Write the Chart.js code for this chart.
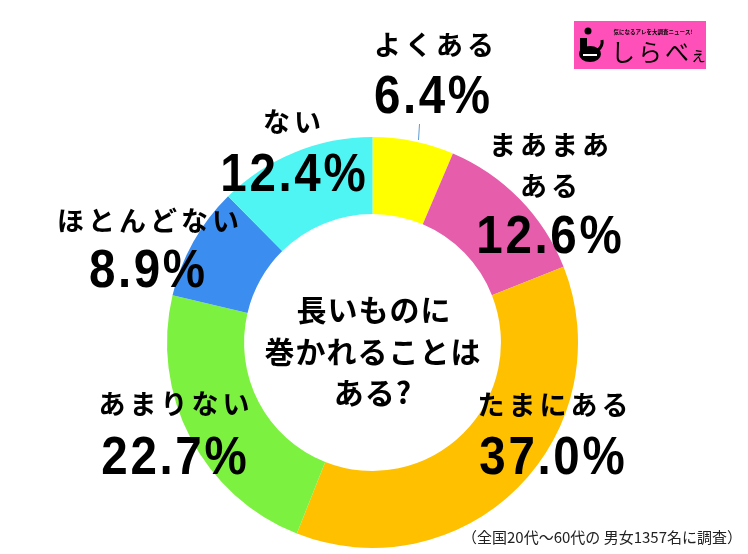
<!DOCTYPE html>
<html>
<head>
<meta charset="utf-8">
<script src="https://cdn.jsdelivr.net/npm/chart.js@4.4.0/dist/chart.umd.min.js"></script>
<style>
  html, body { margin: 0; padding: 0; background: #fff; }
  canvas { display: block; }
</style>
</head>
<body>
<canvas id="chart" width="748" height="554"></canvas>
<script>
// answers, clockwise from 12 o'clock
var categories = ['よくある', 'まあまあある', 'たまにある', 'あまりない', 'ほとんどない', 'ない'];
var percents = [6.4, 12.6, 37.0, 22.7, 8.9, 12.4];
var colors = ['#FFFF00', '#E65DAB', '#FFC000', '#7DF13F', '#3B8EF0', '#4FF5F3'];
var question = ['長いものに', '巻かれることは', 'ある?'];
var note = '（全国20代～60代の 男女1357名に調査）';

// where each answer's text sits (label centre, percent centre), split = line break index
var labelPos = [
  { x: 434, y: 45, px: 432, py: 98 },
  { x: 549, y: 145, px: 549, py: 238, split: 4, y2: 186 },
  { x: 553, y: 405, px: 552, py: 459 },
  { x: 174, y: 404, px: 174, py: 459 },
  { x: 148, y: 221, px: 147, py: 272 },
  { x: 292, y: 122, px: 293, py: 176 }
];

var JP = '"Noto Sans CJK JP", "Noto Sans", sans-serif';

function spaced(ctx, text, x, y, sp) {
  ctx.letterSpacing = sp + 'px';
  ctx.fillText(text, x + sp / 2, y);
  ctx.letterSpacing = '0px';
}

// tall, slightly narrow digits like the original artwork
function tallNumber(ctx, text, x, y) {
  var sx = 0.88;
  ctx.save();
  ctx.translate(x, y);
  ctx.scale(sx, 1);
  ctx.font = 'bold 54px "Liberation Sans", Arial, sans-serif';
  spaced(ctx, text, 0, 0, 3);
  ctx.restore();
}

var textPlugin = {
  id: 'texts',
  afterDraw: function (chart) {
    var ctx = chart.ctx;
    var arc = chart.getDatasetMeta(0).data[0];
    ctx.save();
    ctx.fillStyle = '#000';
    ctx.textAlign = 'center';
    ctx.textBaseline = 'middle';

    labelPos.forEach(function (p, i) {
      ctx.font = 'bold 27px ' + JP;
      var name = categories[i];
      if (p.split) {
        spaced(ctx, name.slice(0, p.split), p.x, p.y, 4);
        spaced(ctx, name.slice(p.split), p.x, p.y2, 4);
      } else {
        spaced(ctx, name, p.x, p.y, 4);
      }
      tallNumber(ctx, percents[i].toFixed(1) + '%', p.px, p.py);
    });

    // question in the hole
    ctx.font = 'bold 30px ' + JP;
    var cx = arc.x, cy = arc.y;
    spaced(ctx, question[0], cx + 1, cy - 33, 1);
    spaced(ctx, question[1], cx, cy + 9, 1);
    spaced(ctx, question[2], cx, cy + 50, 1);

    // small leader for よくある
    ctx.strokeStyle = '#5B9BD5';
    ctx.lineWidth = 1;
    ctx.beginPath();
    ctx.moveTo(419.5, 124);
    ctx.lineTo(418.5, 140);
    ctx.stroke();

    // survey note
    ctx.font = '15px ' + JP;
    ctx.fillStyle = '#222';
    ctx.textAlign = 'left';
    ctx.fillText(note, 462, 537);

    // logo box
    ctx.fillStyle = '#FF50B9';
    ctx.fillRect(574, 21, 132, 48);
    ctx.fillStyle = '#000';
    ctx.font = 'bold 5.5px ' + JP;
    ctx.textAlign = 'center';
    ctx.fillText('気になるアレを大調査ニュース!', 653, 32);
    ctx.textAlign = 'left';
    ctx.font = '24px ' + JP;
    ctx.letterSpacing = '3px';
    ctx.fillText('しらべ', 611, 52);
    ctx.letterSpacing = '0px';
    ctx.font = '17px ' + JP;
    ctx.fillText('ぇ', 690, 55);
    // the "i" mark
    ctx.beginPath();
    ctx.arc(588, 31, 3.5, 0, Math.PI * 2);
    ctx.fill();
    ctx.fillRect(580, 38, 7, 14);
    ctx.beginPath();
    ctx.ellipse(590, 54, 11, 8, 0, 0, Math.PI * 2);
    ctx.fill();
    ctx.beginPath();
    ctx.moveTo(598, 50);
    ctx.quadraticCurveTo(603, 46, 602, 40);
    ctx.lineWidth = 3;
    ctx.strokeStyle = '#000';
    ctx.stroke();
    ctx.fillStyle = '#fff';
    ctx.fillRect(583, 54, 14, 2);
    ctx.restore();
  }
};

new Chart(document.getElementById('chart'), {
  type: 'doughnut',
  data: {
    labels: categories,
    datasets: [{
      data: percents,
      backgroundColor: colors,
      borderWidth: 0
    }]
  },
  options: {
    responsive: false,
    animation: false,
    cutout: '62.5%',
    rotation: 0,
    layout: { padding: { left: 167, right: 170, top: 137, bottom: 6 } },
    plugins: {
      legend: { display: false },
      tooltip: { enabled: false }
    }
  },
  plugins: [textPlugin]
});
</script>
</body>
</html>
